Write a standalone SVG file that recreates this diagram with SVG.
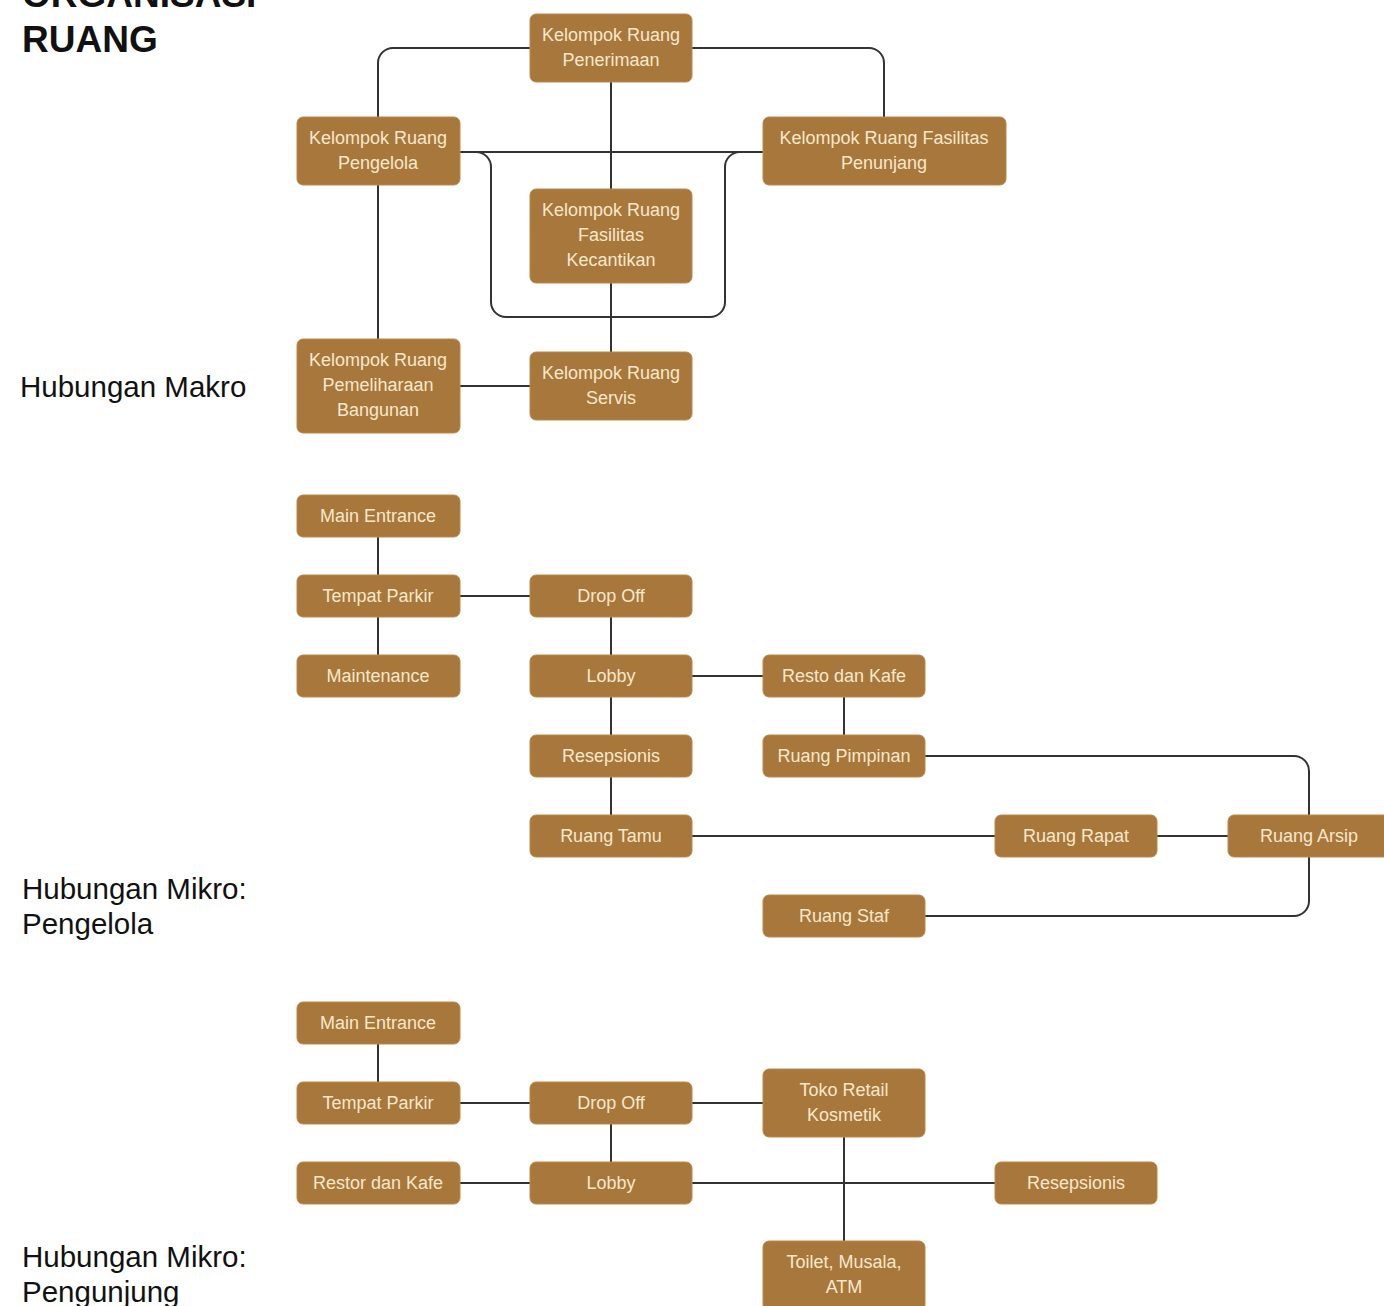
<svg xmlns="http://www.w3.org/2000/svg" width="1384" height="1306" viewBox="0 0 1384 1306">
<style>
.box{fill:#A8773B;stroke:#B98A4C;stroke-width:1}
.bt{font-family:"Liberation Sans",Arial,sans-serif;font-size:18px;fill:#F7E8CC;text-anchor:middle}
.lbl{font-family:"Liberation Sans",Arial,sans-serif;font-size:29.5px;fill:#111}
.title{font-family:"Liberation Sans",Arial,sans-serif;font-size:37px;font-weight:bold;fill:#111}
.c{fill:none;stroke:#333;stroke-width:2}
</style>
<rect width="1384" height="1306" fill="#fff"/>
<text class="title" x="22" y="7">ORGANISASI</text>
<text class="title" x="22" y="52">RUANG</text>
<text class="lbl" x="20" y="397">Hubungan Makro</text>
<text class="lbl" x="22" y="899">Hubungan Mikro:</text>
<text class="lbl" x="22" y="934">Pengelola</text>
<text class="lbl" x="22" y="1267">Hubungan Mikro:</text>
<text class="lbl" x="22" y="1302">Pengunjung</text>
<g id="connectors">
<path class="c" d="M530 48 H393 A15 15 0 0 0 378 63 V117"/>
<path class="c" d="M692 48 H869 A15 15 0 0 1 884 63 V117"/>
<path class="c" d="M611 82 V189"/>
<path class="c" d="M611 283 V352"/>
<path class="c" d="M460 152 H763"/>
<path class="c" d="M460 152 H476 A15 15 0 0 1 491 167 V302 A15 15 0 0 0 506 317 H710 A15 15 0 0 0 725 302 V167 A15 15 0 0 1 740 152 H763"/>
<path class="c" d="M378 185 V339"/>
<path class="c" d="M460 386 H530"/>
<path class="c" d="M378 537 V576"/>
<path class="c" d="M378 617 V656"/>
<path class="c" d="M460 596 H530"/>
<path class="c" d="M611 617 V656"/>
<path class="c" d="M692 676 H763"/>
<path class="c" d="M844 697 V735"/>
<path class="c" d="M611 697 V735"/>
<path class="c" d="M611 777 V815"/>
<path class="c" d="M692 836 H995"/>
<path class="c" d="M1157 836 H1228"/>
<path class="c" d="M925 756 H1294 A15 15 0 0 1 1309 771 V815"/>
<path class="c" d="M925 916 H1294 A15 15 0 0 0 1309 901 V857"/>
<path class="c" d="M378 1044 V1082"/>
<path class="c" d="M460 1103 H530"/>
<path class="c" d="M692 1103 H763"/>
<path class="c" d="M611 1124 V1162"/>
<path class="c" d="M460 1183 H530"/>
<path class="c" d="M692 1183 H995"/>
<path class="c" d="M844 1137 V1241"/>
</g>
<g id="n-penerimaan"><rect class="box" x="530" y="14" width="162" height="68" rx="6"/><text class="bt" x="611" y="41">Kelompok Ruang</text><text class="bt" x="611" y="66">Penerimaan</text></g>
<g id="n-pengelola"><rect class="box" x="297" y="117" width="163" height="68" rx="6"/><text class="bt" x="378" y="144">Kelompok Ruang</text><text class="bt" x="378" y="169">Pengelola</text></g>
<g id="n-penunjang"><rect class="box" x="763" y="117" width="243" height="68" rx="6"/><text class="bt" x="884" y="144">Kelompok Ruang Fasilitas</text><text class="bt" x="884" y="169">Penunjang</text></g>
<g id="n-kecantikan"><rect class="box" x="530" y="189" width="162" height="94" rx="6"/><text class="bt" x="611" y="216">Kelompok Ruang</text><text class="bt" x="611" y="241">Fasilitas</text><text class="bt" x="611" y="266">Kecantikan</text></g>
<g id="n-pemeliharaan"><rect class="box" x="297" y="339" width="163" height="94" rx="6"/><text class="bt" x="378" y="366">Kelompok Ruang</text><text class="bt" x="378" y="391">Pemeliharaan</text><text class="bt" x="378" y="416">Bangunan</text></g>
<g id="n-servis"><rect class="box" x="530" y="352" width="162" height="68" rx="6"/><text class="bt" x="611" y="379">Kelompok Ruang</text><text class="bt" x="611" y="404">Servis</text></g>
<g id="p-main"><rect class="box" x="297" y="495" width="163" height="42" rx="6"/><text class="bt" x="378" y="522">Main Entrance</text></g>
<g id="p-parkir"><rect class="box" x="297" y="575" width="163" height="42" rx="6"/><text class="bt" x="378" y="602">Tempat Parkir</text></g>
<g id="p-dropoff"><rect class="box" x="530" y="575" width="162" height="42" rx="6"/><text class="bt" x="611" y="602">Drop Off</text></g>
<g id="p-maint"><rect class="box" x="297" y="655" width="163" height="42" rx="6"/><text class="bt" x="378" y="682">Maintenance</text></g>
<g id="p-lobby"><rect class="box" x="530" y="655" width="162" height="42" rx="6"/><text class="bt" x="611" y="682">Lobby</text></g>
<g id="p-resto"><rect class="box" x="763" y="655" width="162" height="42" rx="6"/><text class="bt" x="844" y="682">Resto dan Kafe</text></g>
<g id="p-resep"><rect class="box" x="530" y="735" width="162" height="42" rx="6"/><text class="bt" x="611" y="762">Resepsionis</text></g>
<g id="p-pimpinan"><rect class="box" x="763" y="735" width="162" height="42" rx="6"/><text class="bt" x="844" y="762">Ruang Pimpinan</text></g>
<g id="p-tamu"><rect class="box" x="530" y="815" width="162" height="42" rx="6"/><text class="bt" x="611" y="842">Ruang Tamu</text></g>
<g id="p-rapat"><rect class="box" x="995" y="815" width="162" height="42" rx="6"/><text class="bt" x="1076" y="842">Ruang Rapat</text></g>
<g id="p-arsip"><rect class="box" x="1228" y="815" width="162" height="42" rx="6"/><text class="bt" x="1309" y="842">Ruang Arsip</text></g>
<g id="p-staf"><rect class="box" x="763" y="895" width="162" height="42" rx="6"/><text class="bt" x="844" y="922">Ruang Staf</text></g>
<g id="v-main"><rect class="box" x="297" y="1002" width="163" height="42" rx="6"/><text class="bt" x="378" y="1029">Main Entrance</text></g>
<g id="v-parkir"><rect class="box" x="297" y="1082" width="163" height="42" rx="6"/><text class="bt" x="378" y="1109">Tempat Parkir</text></g>
<g id="v-dropoff"><rect class="box" x="530" y="1082" width="162" height="42" rx="6"/><text class="bt" x="611" y="1109">Drop Off</text></g>
<g id="v-toko"><rect class="box" x="763" y="1069" width="162" height="68" rx="6"/><text class="bt" x="844" y="1096">Toko Retail</text><text class="bt" x="844" y="1121">Kosmetik</text></g>
<g id="v-restor"><rect class="box" x="297" y="1162" width="163" height="42" rx="6"/><text class="bt" x="378" y="1189">Restor dan Kafe</text></g>
<g id="v-lobby"><rect class="box" x="530" y="1162" width="162" height="42" rx="6"/><text class="bt" x="611" y="1189">Lobby</text></g>
<g id="v-resep"><rect class="box" x="995" y="1162" width="162" height="42" rx="6"/><text class="bt" x="1076" y="1189">Resepsionis</text></g>
<g id="v-toilet"><rect class="box" x="763" y="1241" width="162" height="70" rx="6"/><text class="bt" x="844" y="1268">Toilet, Musala,</text><text class="bt" x="844" y="1293">ATM</text></g>
</svg>
